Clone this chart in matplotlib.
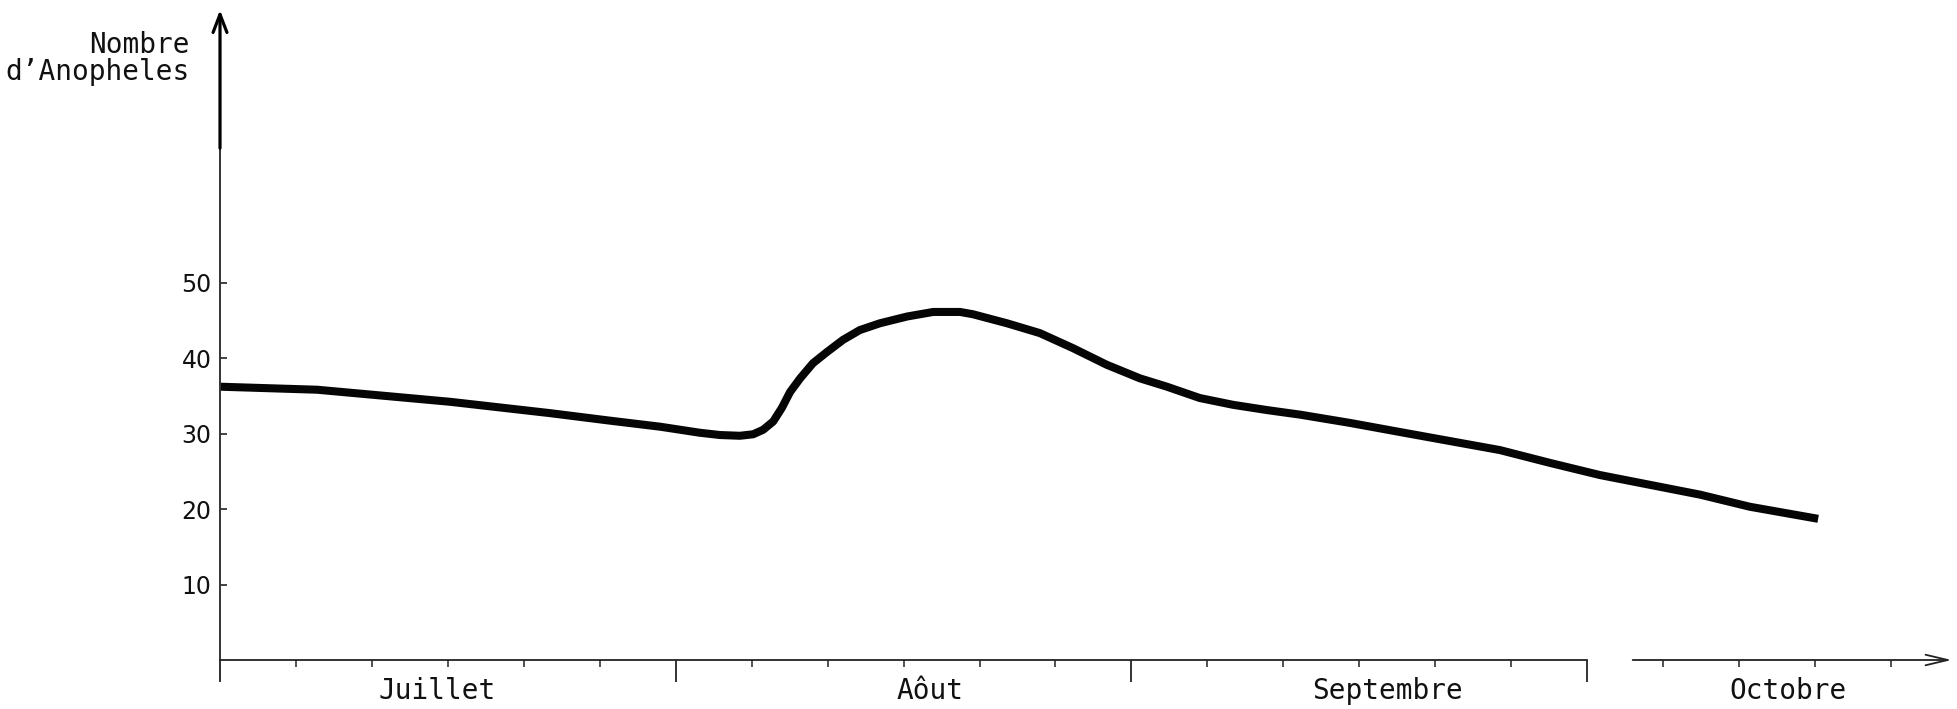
import numpy as np
import matplotlib.pyplot as plt

# position along the time axis, in months from 1 July
mois = [0.000, 0.213, 0.505, 0.724, 0.856, 0.966, 1.053, 1.097, 1.141, 1.170,
        1.192, 1.214, 1.233, 1.251, 1.273, 1.301, 1.332, 1.367, 1.404, 1.448,
        1.508, 1.565, 1.624, 1.652, 1.727, 1.799, 1.872, 1.946, 2.019, 2.078,
        2.150, 2.223, 2.298, 2.370, 2.480, 2.589, 2.699, 2.809, 2.919, 3.028,
        3.138, 3.248, 3.357, 3.507]
# number of Anopheles
anopheles = [36.2, 35.8, 34.2, 32.7, 31.7, 30.9, 30.1, 29.8, 29.7, 29.9,
             30.5, 31.6, 33.4, 35.5, 37.3, 39.3, 40.8, 42.4, 43.7, 44.6,
             45.5, 46.1, 46.1, 45.8, 44.6, 43.3, 41.3, 39.1, 37.3, 36.2,
             34.7, 33.8, 33.1, 32.5, 31.4, 30.2, 29.0, 27.8, 26.1, 24.5,
             23.2, 21.9, 20.3, 18.7]

month_names = ['Juillet', 'Aôut', 'Septembre', 'Octobre']
month_label_pos = [0.476, 1.558, 2.561, 3.44]
y_ticks = [10, 20, 30, 40, 50]

word_font = 'DejaVu Sans Mono'

fig = plt.figure(figsize=(19.57, 7.09), dpi=100)
ax = fig.add_axes([0, 0, 1, 1])
ax.set_xlim(-0.4828, 3.8117)
ax.set_ylim(-6.49, 87.42)

# the curve
ax.plot(mois, anopheles, color='#050505', lw=5.8,
        solid_capstyle='butt', solid_joinstyle='round')

# axes drawn through the origin
for side in ['top', 'right']:
    ax.spines[side].set_visible(False)
ax.spines['left'].set_position(('data', 0))
ax.spines['left'].set_bounds(-2.65, 67.8)
ax.spines['left'].set_linewidth(1.4)
ax.spines['left'].set_color('#333333')
ax.spines['bottom'].set_position(('data', 0))
ax.spines['bottom'].set_bounds(0, 3.0)
ax.spines['bottom'].set_linewidth(1.3)
ax.spines['bottom'].set_color('#222222')

ax.annotate('', xy=(0, 86.1), xytext=(0, 67.8),
            arrowprops=dict(arrowstyle='->,head_length=1.3,head_width=0.5',
                            lw=2.3, color='black', shrinkA=0, shrinkB=0))
ax.annotate('', xy=(3.80, 0), xytext=(3.10, 0),
            arrowprops=dict(arrowstyle='->,head_length=1.6,head_width=0.38',
                            lw=1.3, color='#222222', shrinkA=0, shrinkB=0))

# month boundaries and 5-day subdivisions
ax.set_xticks([0, 1, 2, 3])
ax.set_xticklabels([])
ax.set_xticks(np.arange(1, 23) / 6, minor=True)
ax.tick_params(axis='x', which='major', direction='out', length=16,
               width=1.3, color='#222222')
ax.tick_params(axis='x', which='minor', direction='out', length=5,
               width=1.1, color='#222222')

ax.set_yticks(y_ticks)
ax.set_yticklabels([str(v) for v in y_ticks])
ax.tick_params(axis='y', direction='in', length=5, width=1.3, pad=6,
               color='#333333')
for lab in ax.get_yticklabels():
    lab.set_fontsize(17)
    lab.set_family('DejaVu Sans')
    lab.set_color('#111111')

for name, pos in zip(month_names, month_label_pos):
    ax.text(pos, -4.1, name, ha='center', va='center', fontsize=20,
            family=word_font, color='#111111')

ax.text(-0.0658, 80.4, 'Nombre', ha='right', va='baseline', fontsize=20,
        family=word_font, color='#111111')
ax.text(-0.0658, 76.8, 'd’Anopheles', ha='right', va='baseline', fontsize=20,
        family=word_font, color='#111111')

fig.savefig('out.png', dpi=100, facecolor='white')
